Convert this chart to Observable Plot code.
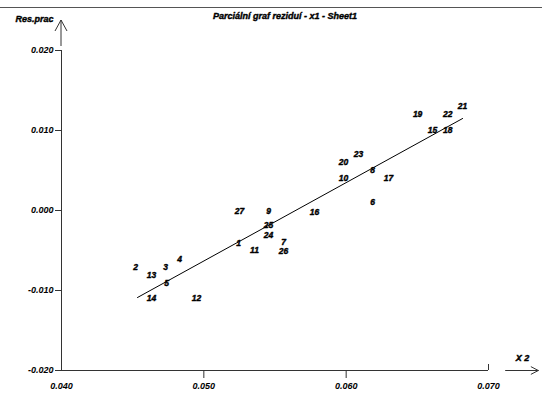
<!DOCTYPE html>
<html>
<head>
<meta charset="utf-8">
<script src="https://cdn.jsdelivr.net/npm/d3@7"></script>
<script src="https://cdn.jsdelivr.net/npm/@observablehq/plot@0.6"></script>
<style>
  html, body { margin: 0; padding: 0; background: #fff; }
  #chart svg { display: block; }
</style>
</head>
<body>
<div id="chart"></div>
<script>
const title = "Parciální graf reziduí - x1 - Sheet1";
const yLabel = "Res.prac";
const xLabel = "X 2";

const ids = [1,2,3,4,5,6,7,8,9,10,11,12,13,14,15,16,17,18,19,20,21,22,23,24,25,26,27];
const xVals = [0.05244,0.04520,0.04731,0.04829,0.04738,0.06186,0.05560,0.06186,0.05455,0.05982,
               0.05356,0.04949,0.04632,0.04632,0.06607,0.05778,0.06298,0.06713,0.06502,0.05982,
               0.06818,0.06713,0.06087,0.05455,0.05455,0.05560,0.05251];
const yVals = [-0.00413,-0.00713,-0.00713,-0.00613,-0.00913,0.00100,-0.00400,0.00500,-0.00010,0.00400,
               -0.00500,-0.01100,-0.00813,-0.01100,0.01000,-0.00025,0.00400,0.01000,0.01200,0.00600,
               0.01300,0.01200,0.00700,-0.00310,-0.00190,-0.00513,-0.00010];

const fitX = [0.04534, 0.06818];
const fitY = [-0.010875, 0.0115];

const xTicks = [0.040, 0.050, 0.060, 0.070];
const yTicks = [-0.020, -0.010, 0.000, 0.010, 0.020];
const yArrow = [0.0205, 0.02375];

const points = ids.map((id, i) => ({id, x: xVals[i], y: yVals[i]}));
const fit = fitX.map((x, i) => ({x, y: fitY[i]}));

const font = {fontFamily: "Liberation Sans, Arial, sans-serif", fontWeight: "bold", fontStyle: "italic", fontSize: 9};
const heavy = {fill: "#000", stroke: "#000", strokeWidth: 0.4};
const fmt = d => d.toFixed(3);
const axisColor = "#333";

const chart = Plot.plot({
  width: 542,
  height: 394,
  marginLeft: 61,
  marginRight: 54,
  marginTop: 50,
  marginBottom: 24,
  style: {background: "#fff", color: "#000", overflow: "visible"},
  x: {type: "linear", domain: [0.040, 0.070]},
  y: {type: "linear", domain: [-0.020, 0.020]},
  marks: [
    // axis lines
    Plot.ruleY([yTicks[0]], {x1: xTicks[0], x2: xTicks[3], stroke: axisColor}),
    Plot.ruleX([xTicks[0]], {y1: yTicks[0], y2: yTicks[4], stroke: axisColor}),
    Plot.axisY({ticks: yTicks, tickSize: 6, tickFormat: () => "", stroke: axisColor, label: null}),
    Plot.axisY({ticks: yTicks, tickSize: 0, tickPadding: 8, tickFormat: fmt, ...font, ...heavy, label: null}),
    Plot.axisX({ticks: xTicks.slice(1, 3), tickSize: 8, tickFormat: () => "", stroke: axisColor, label: null}),
    Plot.axisX({ticks: xTicks, tickSize: 0, tickPadding: 12, tickFormat: fmt, ...font, ...heavy, label: null}),
    Plot.ruleX([xTicks[3]], {y1: yTicks[0], y2: -0.01925, stroke: axisColor}),
    // x axis arrow
    Plot.arrow([0], {x1: 0.0712, x2: 0.0735, y1: yTicks[0], y2: yTicks[0], headLength: 12, headAngle: 55, stroke: axisColor, strokeWidth: 1}),
    Plot.text([xLabel], {frameAnchor: "bottom-right", dx: 34, dy: -10, ...font, ...heavy, textAnchor: "middle"}),
    Plot.text([yLabel], {frameAnchor: "top-left", dx: -27, dy: -35, ...font, ...heavy, textAnchor: "middle"}),
    Plot.text([title], {frameAnchor: "top", dx: 10, dy: -38, ...font, ...heavy, textAnchor: "middle"}),
    // fit line
    Plot.line(fit, {x: "x", y: "y", stroke: "#000", strokeWidth: 1}),
    // labeled points
    Plot.text(points, {x: "x", y: "y", text: d => String(d.id), ...font, fontSize: 8.5, ...heavy})
  ]
});

// y axis arrow, positioned through the chart's own scales
const sx = chart.scale("x"), sy = chart.scale("y");
const ax = sx.apply(xTicks[0]);
const ayBase = sy.apply(yArrow[0]);
const ayTip = sy.apply(yArrow[1]);
d3.select(chart).append("path")
  .attr("d", `M${ax},${ayBase}L${ax},${ayTip}M${ax - 6},${ayTip + 11}L${ax},${ayTip}L${ax + 6},${ayTip + 11}`)
  .attr("fill", "none").attr("stroke", axisColor).attr("stroke-width", 1);

d3.select(chart).insert("line", ":first-child")
  .attr("x1", 0).attr("x2", 542).attr("y1", 7.5).attr("y2", 7.5)
  .attr("stroke", "#555").attr("stroke-width", 1);

document.getElementById("chart").append(chart);
</script>
</body>
</html>
